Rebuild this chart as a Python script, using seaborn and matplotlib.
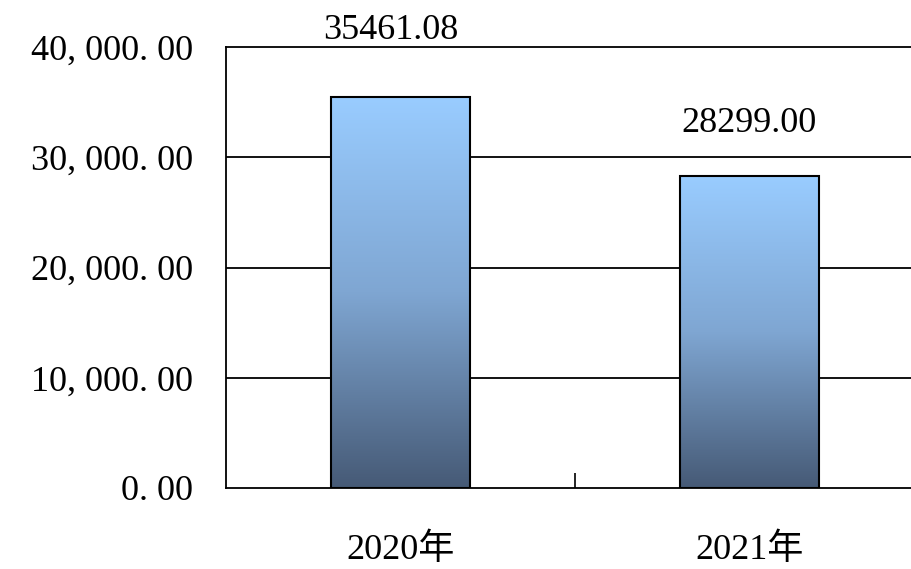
import matplotlib
matplotlib.use('Agg')

import numpy as np
import pandas as pd
import matplotlib.pyplot as plt
import seaborn as sns
from matplotlib.colors import LinearSegmentedColormap

years = ["2020年", "2021年"]
values = [35461.08, 28299.00]
value_labels = ["35461.08", "28299.00"]
y_ticks = [0, 10000, 20000, 30000, 40000]
y_tick_labels = ["0. 00", "10, 000. 00", "20, 000. 00", "30, 000. 00", "40, 000. 00"]

sns.set_style("white")
plt.rcParams['font.family'] = ['Liberation Serif', 'Noto Sans CJK SC']
plt.rcParams['text.color'] = 'black'
plt.rcParams['xtick.color'] = 'black'
plt.rcParams['ytick.color'] = 'black'

df = pd.DataFrame({"year": years, "value": values})

fig = plt.figure(figsize=(9.12, 5.69), dpi=100)
# axes runs past the right edge, as in the reference
ax = fig.add_axes([226 / 912, 81 / 569, 698 / 912, 441 / 569])

sns.barplot(data=df, x="year", y="value", ax=ax, width=0.4,
            color="white", edgecolor="black", linewidth=1.5, zorder=3)

# vertical gradient fill for each bar
cmap = LinearSegmentedColormap.from_list("bar", ["#465a76", "#7fa6d2", "#99ccff"])
grad = np.linspace(0, 1, 256).reshape(-1, 1)
for p in ax.patches:
    x0, y0 = p.get_x(), p.get_y()
    w, h = p.get_width(), p.get_height()
    im = ax.imshow(grad, cmap=cmap, origin="lower", aspect="auto",
                   extent=[x0, x0 + w, y0, y0 + h], zorder=2.5)
    im.set_clip_path(p)
    p.set_facecolor("none")

ax.set_xlim(-0.5, 1.5)
ax.set_ylim(0, 40000)
ax.set_yticks(y_ticks)
ax.set_yticklabels(y_tick_labels, fontsize=26, color="black")
ax.tick_params(axis="y", length=0, pad=24)
ax.set_xticks([0, 1])
ax.set_xticklabels(years, fontsize=26, color="black")
ax.tick_params(axis="x", length=0, pad=33)
ax.set_xticks([0.5], minor=True)
ax.tick_params(axis="x", which="minor", bottom=True, direction="in",
               length=11, width=1.2, color="black")
ax.set_xlabel("")
ax.set_ylabel("")

for y in y_ticks[1:-1]:
    ax.axhline(y, color="black", linewidth=1.3, zorder=1)

for s in ["left", "top", "bottom"]:
    ax.spines[s].set_color("black")
    ax.spines[s].set_linewidth(1.3)
ax.spines["right"].set_visible(False)

label_offsets = [(-7, 42), (0, 32)]
for i, (v, lab) in enumerate(zip(values, value_labels)):
    ax.annotate(lab, (i, v), xytext=label_offsets[i],
                textcoords="offset points", ha="center", va="baseline",
                fontsize=26, color="black", annotation_clip=False)

fig.savefig("out.png", dpi=100)
plt.close(fig)
